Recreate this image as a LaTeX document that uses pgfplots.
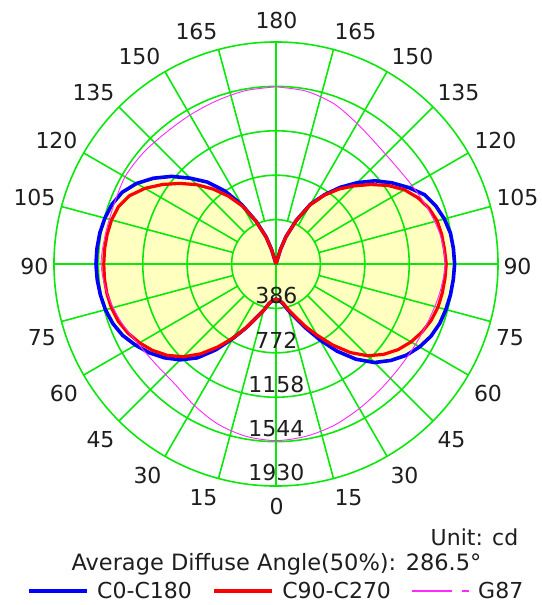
\documentclass[border=0pt]{standalone}
\usepackage{pgfplots}
\pgfplotsset{compat=1.18}
\usepackage{pgfplotstable}
\usepackage{fontspec}
\setmainfont{DejaVu Sans}
\definecolor{gridgreen}{RGB}{10,232,10}
\definecolor{fillyellow}{RGB}{255,255,192}
\definecolor{txt}{RGB}{30,30,30}
\definecolor{mag}{RGB}{255,40,255}

% t = angle in degrees from the downward vertical (negative = left half), r = cd
\pgfplotstableread{
t r
-180 0
-165 0
-163 130
-160 250
-155 410
-150 595
-145 775
-140 930
-135 1055
-130 1185
-125 1300
-120 1400
-115 1475
-110 1517
-105 1540
-100 1555
-95 1562
-90 1565
-85 1560
-80 1550
-75 1535
-70 1510
-65 1470
-60 1410
-55 1345
-50 1268
-45 1178
-40 1065
-35 910
-30 745
-25 610
-20 495
-15 418
-10 350
-5 318
0 305
5 318
10 350
15 420
20 500
25 615
30 760
35 925
40 1080
45 1211
50 1304
55 1383
60 1441
65 1486
70 1514
75 1529
80 1540
85 1547
90 1553
95 1548
100 1540
105 1515
110 1478
115 1425
120 1330
125 1230
130 1125
135 1000
140 870
145 735
150 600
155 420
160 250
163 130
165 0
180 0
}\bluetab

\pgfplotstableread{
t r
-180 0
-165 0
-163 125
-160 245
-155 410
-150 580
-145 720
-140 850
-135 975
-130 1090
-125 1205
-120 1315
-115 1405
-110 1457
-105 1480
-100 1490
-95 1496
-90 1497
-85 1497
-80 1492
-75 1480
-70 1458
-65 1420
-60 1370
-55 1310
-50 1235
-45 1140
-40 1020
-35 880
-30 740
-25 610
-20 495
-15 418
-10 350
-5 318
0 305
5 315
10 345
15 410
20 485
25 595
30 715
35 860
40 1005
45 1128
50 1222
55 1297
60 1355
65 1400
70 1435
75 1457
80 1467
85 1474
90 1480
95 1470
100 1463
105 1450
110 1415
115 1362
120 1290
125 1190
130 1075
135 960
140 850
145 730
150 595
155 420
160 250
163 130
165 0
180 0
}\redtab

\pgfplotstableread{
t r
-180 1540
-170 1530
-160 1510
-150 1495
-140 1490
-130 1505
-120 1515
-110 1500
-100 1505
-90 1520
-80 1490
-70 1440
-60 1385
-50 1360
-40 1365
-30 1420
-20 1480
-10 1520
0 1535
10 1520
20 1490
30 1450
40 1418
50 1400
60 1400
70 1415
80 1445
90 1470
100 1450
110 1405
120 1365
130 1345
140 1360
150 1410
160 1480
170 1525
180 1540
}\magtab

\begin{document}
\begin{tikzpicture}[font=\fontsize{22}{26}\selectfont, every node/.style={text=txt}]
\path[use as bounding box] (-276pt,-341pt) rectangle (265pt,264pt);
\begin{axis}[
  at={(0,0)}, anchor=center,
  x=0.11503pt, y=0.11503pt,
  xmin=-1930, xmax=1930, ymin=-1930, ymax=1930,
  hide axis, clip=false,
  legend style={at={(0.5,-0.2365)}, anchor=center, draw=none, fill=none,
    legend columns=3, font=\fontsize{22}{26}\selectfont,
    nodes={inner sep=2pt, text=txt},
    /tikz/every odd column/.append style={column sep=6pt},
    /tikz/every even column/.append style={column sep=18pt}},
  legend image code/.code={\draw[#1] (0pt,0pt) -- (58pt,0pt);},
]
% filled light distribution
\addplot[fill=fillyellow, draw=none, forget plot] table[x expr={\thisrow{r}*sin(\thisrow{t})}, y expr={-\thisrow{r}*cos(\thisrow{t})}] {\bluetab};
\addplot[fill=fillyellow, draw=none, forget plot] table[x expr={\thisrow{r}*sin(\thisrow{t})}, y expr={-\thisrow{r}*cos(\thisrow{t})}] {\redtab};
% polar grid
\draw[gridgreen, line width=1.6pt] (axis cs:0,0) circle[radius=386];
\draw[gridgreen, line width=1.6pt] (axis cs:0,0) circle[radius=772];
\draw[gridgreen, line width=1.6pt] (axis cs:0,0) circle[radius=1158];
\draw[gridgreen, line width=1.6pt] (axis cs:0,0) circle[radius=1544];
\draw[gridgreen, line width=1.6pt] (axis cs:0,0) circle[radius=1930];
\pgfplotsinvokeforeach{15,30,...,75,105,120,...,165,195,210,...,255,285,300,...,345}{
  \draw[gridgreen, line width=1.6pt] (axis cs:{386*cos(#1)},{386*sin(#1)}) -- (axis cs:{1930*cos(#1)},{1930*sin(#1)});
}
\draw[gridgreen, line width=1.6pt] (axis cs:-1930,0) -- (axis cs:1930,0);
\draw[gridgreen, line width=1.6pt] (axis cs:0,-1930) -- (axis cs:0,1930);
% curves
\addplot[blue, line width=3.6pt, line join=round, forget plot] table[x expr={\thisrow{r}*sin(\thisrow{t})}, y expr={-\thisrow{r}*cos(\thisrow{t})}] {\bluetab};
\addplot[red, line width=3.2pt, line join=round, forget plot] table[x expr={\thisrow{r}*sin(\thisrow{t})}, y expr={-\thisrow{r}*cos(\thisrow{t})}] {\redtab};
\addplot[mag, line width=0.9pt, smooth, forget plot] table[x expr={\thisrow{r}*sin(\thisrow{t})}, y expr={-\thisrow{r}*cos(\thisrow{t})}] {\magtab};
% legend
\addlegendimage{blue, line width=4.5pt}
\addlegendentry{C0-C180}
\addlegendimage{red, line width=4.5pt}
\addlegendentry{C90-C270}
\addlegendimage{mag, line width=1.2pt, dash pattern=on 40pt off 10pt on 7pt off 30pt}
\addlegendentry{G87}
\end{axis}
% angle labels
\foreach \x/\y/\lab in {0.5/244/180,
  -79.5/233/165, 79.5/233/165,
  -136.5/208/150, 136.5/208/150,
  -182.5/172/135, 182.5/172/135,
  -219.5/124/120, 219.5/124/120,
  -241.5/67/105, 241.5/67/105,
  -241.5/-2/90, 241.5/-2/90,
  -234/-74/75, 234/-74/75,
  -212/-129/60, 212/-129/60,
  -175.5/-176/45, 175.5/-176/45,
  -128.5/-211/30, 128.5/-211/30,
  -72.5/-234/15, 72.5/-234/15,
  0.5/-242/0} {
  \node[inner sep=0pt, anchor=center] at (\x pt,\y pt) {\lab};
}
% radial value labels
\foreach \v/\rr in {386/44.4, 772/88.8, 1158/133.2, 1544/177.6, 1930/222} {
  \node[inner sep=0pt, anchor=south] at (0.3pt,{-\rr pt+4.5pt}) {\v};
}
\node[anchor=base east, inner sep=0pt] at (242.5pt,-281pt) {Unit: cd};
\node[anchor=base, inner sep=0pt, font=\fontsize{22.5}{26}\selectfont] at (0.5pt,-306pt) {Average Diffuse Angle(50\%): 286.5°};
\end{tikzpicture}
\end{document}
